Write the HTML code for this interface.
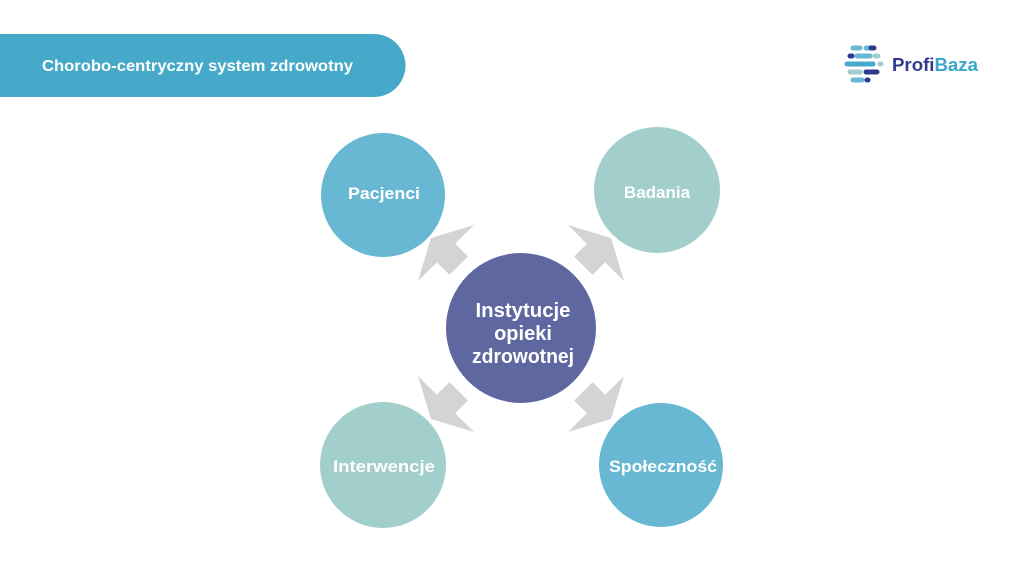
<!DOCTYPE html>
<html><head><meta charset="utf-8"><style>
html,body{margin:0;padding:0;background:#fff;}
svg{display:block;}
text{font-family:"Liberation Sans",sans-serif;font-weight:bold;fill:#fff;}
</style></head><body>
<svg width="1024" height="576" viewBox="0 0 1024 576" xmlns="http://www.w3.org/2000/svg">
<rect width="1024" height="576" fill="#fff"/>
<path d="M0 34 H374 A31.5 31.5 0 0 1 374 97 H0 Z" fill="#47a9c9"/>
<text x="42" y="71" font-size="16" textLength="311" lengthAdjust="spacingAndGlyphs">Chorobo-centryczny system zdrowotny</text>

<!-- logo -->
<g stroke-linecap="round" stroke-width="5">
<line x1="853" y1="48" x2="860" y2="48" stroke="#68b8d3"/>
<line x1="866" y1="48" x2="873" y2="48" stroke="#68b8d3"/>
<line x1="871" y1="48" x2="874" y2="48" stroke="#2f3a8f"/>
<line x1="850" y1="56" x2="852" y2="56" stroke="#2f3a8f"/>
<line x1="857" y1="56" x2="870" y2="56" stroke="#68b8d3"/>
<line x1="875" y1="56" x2="878" y2="56" stroke="#a2cecb"/>
<line x1="847" y1="64" x2="873" y2="64" stroke="#47a9c9"/>
<line x1="880" y1="64" x2="881" y2="64" stroke="#a2cecb"/>
<line x1="850" y1="72" x2="860" y2="72" stroke="#a2cecb"/>
<line x1="866" y1="72" x2="877" y2="72" stroke="#2f3a8f"/>
<line x1="853" y1="80" x2="862" y2="80" stroke="#68b8d3"/>
<line x1="867" y1="80" x2="868" y2="80" stroke="#2f3a8f"/>
</g>
<text x="892" y="71" font-size="18.5" style="fill:#2f3a8f" textLength="86" lengthAdjust="spacingAndGlyphs">Profi<tspan style="fill:#3aa6c9">Baza</tspan></text>

<!-- arrows -->
<g fill="#d3d4d6">
<polygon id="a" points="431,238 474,225 455.2,243.8 467.9,256.5 449.5,274.9 436.8,262.2 418,281"/>
<use href="#a" transform="translate(1042,0) scale(-1,1)"/>
<use href="#a" transform="translate(0,657) scale(1,-1)"/>
<use href="#a" transform="translate(1042,657) scale(-1,-1)"/>
</g>

<circle cx="383" cy="195" r="62" fill="#68b8d3"/>
<circle cx="657" cy="190" r="63" fill="#a2cecb"/>
<circle cx="383" cy="465" r="63" fill="#a2cecb"/>
<circle cx="661" cy="465" r="62" fill="#68b8d3"/>
<circle cx="521" cy="328" r="75" fill="#5f67a1"/>

<text x="384" y="199" font-size="17" text-anchor="middle" textLength="72" lengthAdjust="spacingAndGlyphs">Pacjenci</text>
<text x="657" y="198" font-size="17" text-anchor="middle">Badania</text>
<text x="384" y="472" font-size="17" text-anchor="middle" textLength="102" lengthAdjust="spacingAndGlyphs">Interwencje</text>
<text x="663" y="472" font-size="17" text-anchor="middle" textLength="108" lengthAdjust="spacingAndGlyphs">Społeczność</text>
<text x="523" y="317" font-size="20" text-anchor="middle" textLength="95" lengthAdjust="spacingAndGlyphs">Instytucje</text>
<text x="523" y="340" font-size="20" text-anchor="middle">opieki</text>
<text x="523" y="363" font-size="20" text-anchor="middle" textLength="102" lengthAdjust="spacingAndGlyphs">zdrowotnej</text>
</svg>
</body></html>
